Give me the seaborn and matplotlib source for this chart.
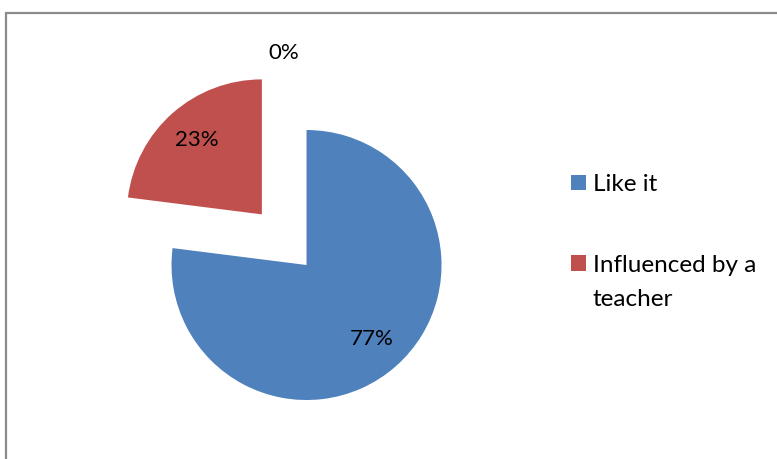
import matplotlib
matplotlib.use("Agg")
import matplotlib.pyplot as plt
from matplotlib.patches import Rectangle
import numpy as np
import seaborn as sns

categories = ["Like it", "Influenced by a teacher", ""]
values = [77, 23, 0]
colors = ["#4F81BD", "#C0504D", "#9BBB59"]

sns.set_theme(style="white")
plt.rcParams["font.family"] = ["Lato", "DejaVu Sans"]

W, H = 777, 459
fig = plt.figure(figsize=(W / 100, H / 100), dpi=100)
ax = fig.add_axes([0, 0, 1, 1])

wedges, texts, autotexts = ax.pie(
    values,
    colors=colors,
    startangle=90,
    counterclock=False,
    explode=[0.25, 0.25, 0.25],
    autopct=lambda p: f"{p:.0f}%",
    pctdistance=0.73,
    textprops=dict(fontsize=16, color="black"),
    wedgeprops=dict(linewidth=0),
)

# the empty slice keeps its label just outside the rim
for w, t, v in zip(wedges, autotexts, values):
    if v == 0:
        ang = np.deg2rad((w.theta1 + w.theta2) / 2)
        cx, cy = w.center
        t.set_position((cx + 1.13 * np.cos(ang), cy + 1.13 * np.sin(ang)))

# one data unit = 135 px, pie centre at (284, 240) px from top-left
cx_px, cy_px, r_px = 284.2, 239.7, 135.0
ax.set_xlim(-cx_px / r_px, (W - cx_px) / r_px)
ax.set_ylim(-(H - cy_px) / r_px, cy_px / r_px)
ax.set_aspect("auto")
ax.axis("off")

# legend: long label wraps onto a second line under its text
first_lines, rest_lines = [], []
for c in categories[:2]:
    if len(c) > 15:
        head, tail = c.rsplit(" ", 1)
        first_lines.append(head)
        rest_lines.append(tail)
    else:
        first_lines.append(c)
        rest_lines.append(None)

LEG_FS = 17.5
leg = ax.legend(
    wedges[:2], first_lines,
    loc="upper left",
    bbox_to_anchor=(571 / W, 1 - 174 / H),
    bbox_transform=fig.transFigure,
    frameon=False,
    fontsize=LEG_FS,
    labelcolor="black",
    handlelength=0.62,
    handleheight=0.62,
    handletextpad=0.28,
    labelspacing=2.45,
    borderpad=0,
    borderaxespad=0,
)
for t, rest in zip(leg.texts, rest_lines):
    if rest:
        ax.annotate(rest, xy=(0, 0), xycoords=t, xytext=(0, -34),
                    textcoords="offset pixels", ha="left", va="bottom",
                    fontsize=LEG_FS, color="black", zorder=10)

fig.patches.append(Rectangle((6 / W, -0.1), 1.2, 1.1 - 13 / H,
                             transform=fig.transFigure, fill=False,
                             edgecolor="#8a8a8a", linewidth=1.6))

fig.savefig("out.png", dpi=100)
